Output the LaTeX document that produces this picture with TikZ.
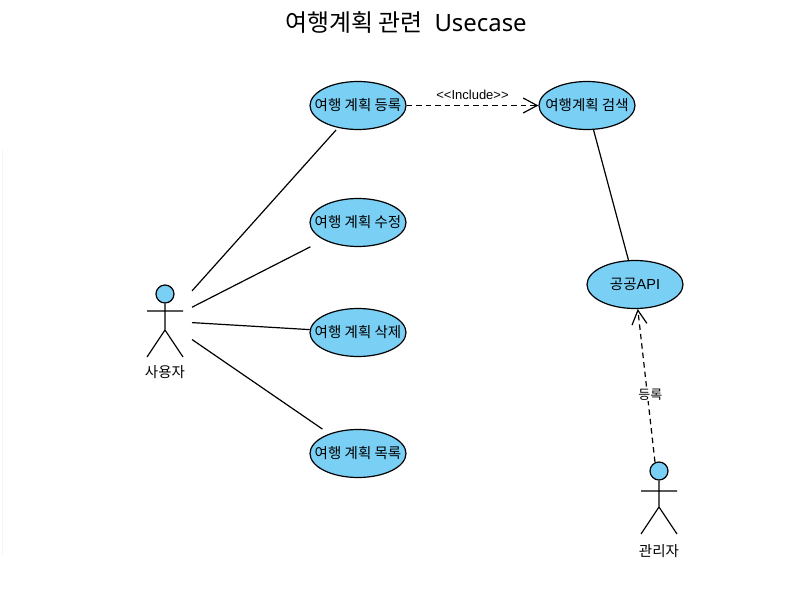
\documentclass[tikz,border=0pt]{standalone}
\usepackage{fontspec}
\setmainfont{Liberation Sans}
\newfontfamily\kr{Noto Sans CJK KR}
\newfontfamily\ttl{Noto Sans}
\usetikzlibrary{arrows.meta,shapes.geometric}
\definecolor{ucblue}{HTML}{7ACFF5}
\newcommand{\uctext}[1]{\makebox[0pt]{#1}}
\tikzset{
  x=1bp,y=-1bp,
  usecase/.style={ellipse,draw=black,fill=ucblue,line width=1.2bp,minimum width=96bp,minimum height=48bp,inner sep=0pt,font=\fontsize{14.5bp}{15bp}\selectfont\kr},
  actorbox/.style={rectangle,minimum width=54bp,minimum height=72bp,inner sep=0pt,outer sep=0pt},
  actorhead/.style={circle,draw=black,fill=ucblue,line width=1.2bp,minimum size=18bp,inner sep=0pt},
  stick/.style={draw=black,line width=1.2bp},
  assoc/.style={draw=black,line width=1.2bp},
  dep/.style={draw=black,line width=1.2bp,dash pattern=on 5.5bp off 4bp,-{Straight Barb[length=14bp,width=15bp]}},
  caption/.style={font=\fontsize{14.5bp}{15bp}\selectfont\kr,inner sep=1bp},
  edgetext/.style={font=\fontsize{13bp}{14bp}\selectfont,inner sep=1bp,text=black},
}
\begin{document}
\begin{tikzpicture}
\useasboundingbox (0,0) rectangle (811,592);
\fill[white] (0,0) rectangle (811,592);
\draw[black!4,line width=0.7bp] (2,150) -- (2,555);
\node[font=\fontsize{23.9bp}{27bp}\selectfont\ttl] (title) at (406,22) {{\kr 여행계획 관련}\hspace{0.5em}Usecase};

\node[usecase] (reg) at (358,105.5) {\uctext{여행 계획 등록}};
\node[usecase] (edit) at (358,222.5) {\uctext{여행 계획 수정}};
\node[usecase] (del) at (358,332.5) {\uctext{여행 계획 삭제}};
\node[usecase] (list) at (358,453.5) {\uctext{여행 계획 목록}};
\node[usecase] (search) at (587,105.5) {\uctext{여행계획 검색}};
\node[usecase] (api) at (635,284.5) {\uctext{{\kr 공공}\fontspec{Liberation Sans}API}};

\node[actorbox] (user) at (165,321) {};
\node[actorhead] (userhead) at (165,294) {};
\draw[stick] (userhead.south) -- (165,330) (147,311) -- (183,311) (147,357) -- (165,330) -- (183,357);
\node[caption] (userlabel) at (165,372.5) {사용자};

\node[actorbox] (admin) at (659,498) {};
\node[actorhead] (adminhead) at (659,471) {};
\draw[stick] (adminhead.south) -- (659,507) (641,491) -- (677,491) (641,534) -- (659,507) -- (677,534);
\node[caption] (adminlabel) at (659,551.5) {관리자};

\draw[assoc,shorten >=2.8bp] (user) -- (reg);
\draw[assoc,shorten >=15bp] (user) -- (edit);
\draw[assoc] (user) -- (del);
\draw[assoc,shorten >=8.2bp] (user) -- (list);
\draw[assoc] (search) -- (api);
\draw[dep] (reg) -- node[edgetext,above=4bp] (inc) {{<}{<}Include{>}{>}} (search);
\draw[dep] (admin) -- node[edgetext,fill=white,font=\fontsize{13bp}{15bp}\selectfont\kr,pos=0.44,xshift=3bp] (rel) {등록} (api);
\end{tikzpicture}
\end{document}
